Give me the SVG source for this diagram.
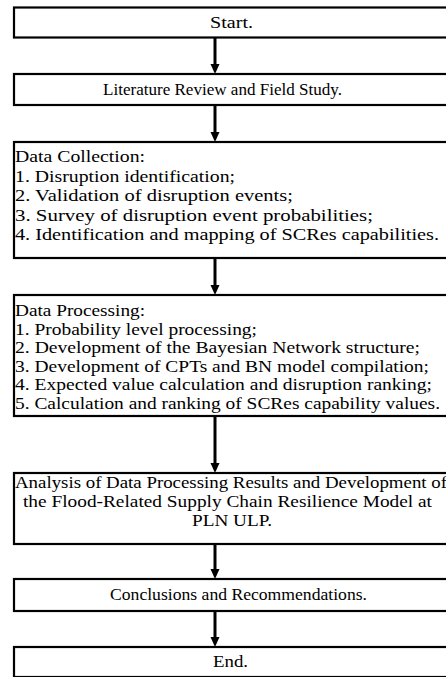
<svg xmlns="http://www.w3.org/2000/svg" width="446" height="677" viewBox="0 0 446 677">
<defs>
<style>
.box{fill:#fff;stroke:#000;stroke-width:2.2}
.t{font-family:"Liberation Serif","Times New Roman",serif;font-size:17.5px;fill:#000}
.arr{stroke:#000;stroke-width:3;fill:none}
.head{fill:#000}
</style>
</defs>
<rect width="446" height="677" fill="#fff"/>
<g id="connectors">
<line class="arr" x1="215" y1="38" x2="215" y2="65"/><polygon class="head" points="210.5,64 219.5,64 215,74"/>
<line class="arr" x1="215" y1="105" x2="215" y2="133"/><polygon class="head" points="210.5,132 219.5,132 215,142"/>
<line class="arr" x1="215" y1="258" x2="215" y2="286"/><polygon class="head" points="210.5,285 219.5,285 215,295"/>
<line class="arr" x1="215" y1="417" x2="215" y2="464"/><polygon class="head" points="210.5,463 219.5,463 215,473"/>
<line class="arr" x1="215" y1="544" x2="215" y2="570"/><polygon class="head" points="210.5,569 219.5,569 215,579"/>
<line class="arr" x1="215" y1="611" x2="215" y2="638"/><polygon class="head" points="210.5,637 219.5,637 215,647"/>
</g>
<g id="start">
<rect class="box" x="14" y="7.5" width="434" height="30"/>
<text class="t" x="210" y="28" textLength="43" lengthAdjust="spacingAndGlyphs">Start.</text>
</g>
<g id="literature">
<rect class="box" x="14" y="74" width="434" height="31"/>
<text class="t" x="103" y="95" textLength="239" lengthAdjust="spacingAndGlyphs">Literature Review and Field Study.</text>
</g>
<g id="collection">
<rect class="box" x="14" y="142" width="434" height="116"/>
<text class="t" x="15" y="162" textLength="130" lengthAdjust="spacingAndGlyphs">Data Collection:</text>
<text class="t" x="15" y="181.5" textLength="220" lengthAdjust="spacingAndGlyphs">1. Disruption identification;</text>
<text class="t" x="15" y="201" textLength="278" lengthAdjust="spacingAndGlyphs">2. Validation of disruption events;</text>
<text class="t" x="15" y="220.5" textLength="358" lengthAdjust="spacingAndGlyphs">3. Survey of disruption event probabilities;</text>
<text class="t" x="15" y="240" textLength="424" lengthAdjust="spacingAndGlyphs">4. Identification and mapping of SCRes capabilities.</text>
</g>
<g id="processing">
<rect class="box" x="14" y="295" width="434" height="121"/>
<text class="t" x="15" y="316" textLength="130" lengthAdjust="spacingAndGlyphs">Data Processing:</text>
<text class="t" x="15" y="334.6" textLength="242" lengthAdjust="spacingAndGlyphs">1. Probability level processing;</text>
<text class="t" x="15" y="353.2" textLength="405" lengthAdjust="spacingAndGlyphs">2. Development of the Bayesian Network structure;</text>
<text class="t" x="15" y="371.8" textLength="414" lengthAdjust="spacingAndGlyphs">3. Development of CPTs and BN model compilation;</text>
<text class="t" x="15" y="390.4" textLength="417" lengthAdjust="spacingAndGlyphs">4. Expected value calculation and disruption ranking;</text>
<text class="t" x="15" y="409" textLength="425" lengthAdjust="spacingAndGlyphs">5. Calculation and ranking of SCRes capability values.</text>
</g>
<g id="analysis">
<rect class="box" x="14" y="473" width="434" height="71"/>
<text class="t" x="15" y="488" textLength="432" lengthAdjust="spacingAndGlyphs">Analysis of Data Processing Results and Development of</text>
<text class="t" x="23" y="507" textLength="409" lengthAdjust="spacingAndGlyphs">the Flood-Related Supply Chain Resilience Model at</text>
<text class="t" x="192" y="526" textLength="80" lengthAdjust="spacingAndGlyphs">PLN ULP.</text>
</g>
<g id="conclusions">
<rect class="box" x="14" y="579" width="434" height="32"/>
<text class="t" x="110" y="600" textLength="257" lengthAdjust="spacingAndGlyphs">Conclusions and Recommendations.</text>
</g>
<g id="end">
<rect class="box" x="14" y="647" width="434" height="30"/>
<text class="t" x="213" y="667" textLength="35" lengthAdjust="spacingAndGlyphs">End.</text>
</g>
</svg>
